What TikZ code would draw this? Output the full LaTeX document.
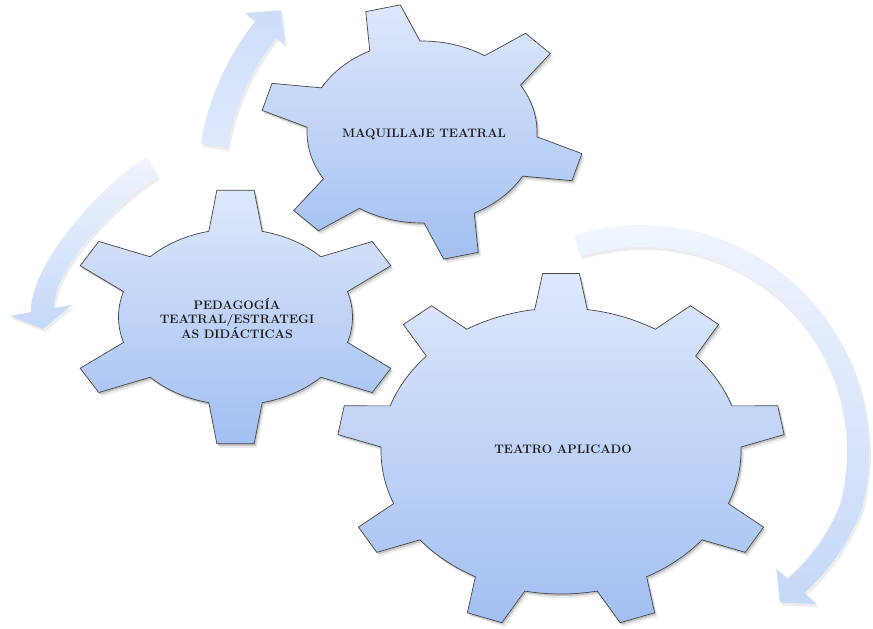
\documentclass[tikz,border=0pt]{standalone}
\usepackage{fontspec}
\definecolor{geartop}{HTML}{DDE8FB}
\definecolor{gearbot}{HTML}{A2BFF2}
\definecolor{gearline}{HTML}{454545}
\definecolor{arrlight}{HTML}{F0F5FE}
\definecolor{arrdark}{HTML}{C5D8F8}
\definecolor{txt}{HTML}{1A1A1A}
% gear outline: #1 cx, #2 cy, #3 a, #4 b, #5 outer factor, #6 teeth, #7 phase, #8 base half-angle, #9 tip half-angle
\newcommand\gearpath[9]{%
  ({#1+#3*cos(#7-#8)},{#2-#4*sin(#7-#8)})
  \foreach \k in {1,...,#6}{
    -- ({#1+#3*#5*cos(#7+(\k-1)*360/#6-#9)},{#2-#4*#5*sin(#7+(\k-1)*360/#6-#9)})
    -- ({#1+#3*#5*cos(#7+(\k-1)*360/#6+#9)},{#2-#4*#5*sin(#7+(\k-1)*360/#6+#9)})
    -- plot[domain=#7+(\k-1)*360/#6+#8:#7+\k*360/#6-#8, samples=16] ({#1+#3*cos(\x)},{#2-#4*sin(\x)})
  } -- cycle}
\newcommand\arrowApath{%
  plot[domain=170.5:141.5, samples=40] ({465+268*cos(\x)},{188-268*sin(\x)})
  -- ({465+281*cos(141.5)},{188-281*sin(141.5)})
  -- ({465+256*cos(136)},{188-256*sin(136)})
  -- ({465+230*cos(141.5)},{188-230*sin(141.5)})
  -- plot[domain=141.5:170.5, samples=40] ({465+241*cos(\x)},{188-241*sin(\x)})
  -- cycle}
\newcommand\arrowBpath{%
  (147,157) .. controls (110,177) and (29,262) .. (31,312)
  -- (10,316) -- (43,329) -- (72,305) -- (54,308)
  .. controls (52,268) and (123,196) .. (158,177) -- cycle}
\newcommand\arrowCpath{%
  plot[domain=107.5:-41, samples=90] ({642+(227-12*max(0,(-15-(\x))/26))*cos(\x)},{452-(227-12*max(0,(-15-(\x))/26))*sin(\x)})
  -- ({642+232*cos(-41)},{452-232*sin(-41)})
  -- ({642+204*cos(-47.5)},{452-204*sin(-47.5)})
  -- ({642+178*cos(-41)},{452-178*sin(-41)})
  -- plot[domain=-41:107.5, samples=90] ({642+(205-12*max(0,(-15-(\x))/26))*cos(\x)},{452-(205-12*max(0,(-15-(\x))/26))*sin(\x)})
  -- cycle}
\begin{document}
\begin{tikzpicture}[x=1pt,y=-1pt,
  gearbody/.style={draw=gearline, line width=0.7pt, top color=geartop, bottom color=gearbot},
  gshadowa/.style={fill=black, opacity=0.16},
  gshadowb/.style={fill=black, opacity=0.08},
  ashadow/.style={fill=black, opacity=0.07},
  geartext/.style={font=\fontsize{12.3}{14.5}\selectfont\bfseries, text=txt, align=center, inner sep=0pt}]
\useasboundingbox[fill=white] (0,0) rectangle (873,629);
% arrows
\fill[ashadow, xshift=2pt, yshift=-3pt] \arrowApath;
\shade[top color=arrdark!80!arrlight, bottom color=arrlight!60!arrdark] \arrowApath;
\fill[ashadow, xshift=2pt, yshift=-3pt] \arrowBpath;
\shade[top color=arrlight, bottom color=arrdark] \arrowBpath;
\fill[ashadow, xshift=2pt, yshift=-3pt] \arrowCpath;
\shade[top color=arrlight, bottom color=arrdark] \arrowCpath;
% gear shadows
\fill[gshadowb, xshift=3pt, yshift=-4pt] \gearpath{422}{132}{115}{91}{1.41}{6}{104}{13}{6.3};
\fill[gshadowa, xshift=1.5pt, yshift=-2pt] \gearpath{422}{132}{115}{91}{1.41}{6}{104}{13}{6.3};
\fill[gshadowb, xshift=3pt, yshift=-4pt] \gearpath{235.5}{317}{117}{88}{1.45}{6}{90}{13.2}{6.3};
\fill[gshadowa, xshift=1.5pt, yshift=-2pt] \gearpath{235.5}{317}{117}{88}{1.45}{6}{90}{13.2}{6.3};
\fill[gshadowb, xshift=3pt, yshift=-4pt] \gearpath{561}{451}{180}{143}{1.245}{9}{90}{8.4}{4.7};
\fill[gshadowa, xshift=1.5pt, yshift=-2pt] \gearpath{561}{451}{180}{143}{1.245}{9}{90}{8.4}{4.7};
% gears
\shade[gearbody] \gearpath{422}{132}{115}{91}{1.41}{6}{104}{13}{6.3};
\shade[gearbody] \gearpath{235.5}{317}{117}{88}{1.45}{6}{90}{13.2}{6.3};
\shade[gearbody] \gearpath{561}{451}{180}{143}{1.245}{9}{90}{8.4}{4.7};
% labels
\node[geartext] (maq) at (424,134) {MAQUILLAJE TEATRAL};
\node[geartext] (ped) at (237,318) {PEDAGOGÍA\\TEATRAL/ESTRATEGI\\AS DIDÁCTICAS};
\node[geartext] (tea) at (563,449) {TEATRO APLICADO};
\end{tikzpicture}
\end{document}
